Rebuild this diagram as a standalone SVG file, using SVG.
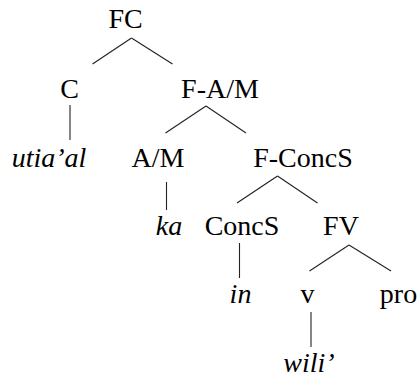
<svg xmlns="http://www.w3.org/2000/svg" width="419" height="377" viewBox="0 0 419 377">
<style>
text{font-family:'Liberation Serif',serif;font-size:28px;fill:#000;text-anchor:middle}
.i{font-style:italic}
#edges line{stroke:#222;stroke-width:1.1}
</style>
<rect width="419" height="377" fill="#fff"/>
<g id="edges">
<line x1="131.5" y1="38" x2="92.5" y2="64"/>
<line x1="131.5" y1="38" x2="172.5" y2="64"/>
<line x1="70" y1="105" x2="70" y2="140"/>
<line x1="206" y1="106" x2="165.5" y2="133"/>
<line x1="206" y1="106" x2="246" y2="133"/>
<line x1="166.5" y1="182" x2="166.5" y2="210"/>
<line x1="277.5" y1="176" x2="237" y2="203"/>
<line x1="277.5" y1="176" x2="317.5" y2="203"/>
<line x1="239.5" y1="243" x2="239.5" y2="278"/>
<line x1="349" y1="245" x2="309.5" y2="271"/>
<line x1="349" y1="245" x2="391" y2="271"/>
<line x1="311" y1="312" x2="311" y2="347"/>
</g>
<g id="FC"><text x="125.5" y="28">FC</text></g>
<g id="C"><text x="69.5" y="98">C</text></g>
<g id="utiaal"><text class="i" x="49" y="167">utia’al</text></g>
<g id="FAM"><text x="220" y="98">F-A/M</text></g>
<g id="AM"><text x="158" y="167">A/M</text></g>
<g id="ka"><text class="i" x="169" y="235">ka</text></g>
<g id="FConcS"><text x="303" y="167">F-ConcS</text></g>
<g id="ConcS"><text x="242" y="235">ConcS</text></g>
<g id="in"><text class="i" x="240.5" y="303">in</text></g>
<g id="FV"><text x="341" y="235">FV</text></g>
<g id="v"><text x="307.5" y="303">v</text></g>
<g id="pro"><text x="398.5" y="303">pro</text></g>
<g id="wili"><text class="i" x="309" y="372">wili’</text></g>
</svg>
